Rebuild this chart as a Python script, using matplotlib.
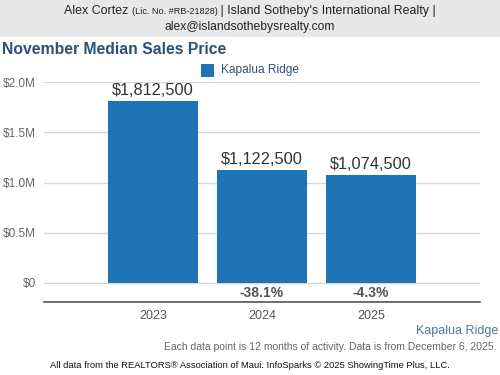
import matplotlib
matplotlib.use("Agg")
import matplotlib.pyplot as plt
from matplotlib.patches import Rectangle

years = ["2023", "2024", "2025"]
values = [1812500, 1122500, 1074500]
value_labels = ["$1,812,500", "$1,122,500", "$1,074,500"]
pct_labels = ["", "-38.1%", "-4.3%"]
yticks = [0, 500000, 1000000, 1500000, 2000000]
ytick_labels = ["$0", "$0.5M", "$1.0M", "$1.5M", "$2.0M"]

plt.rcParams['font.family'] = ['Liberation Sans', 'DejaVu Sans']

W, H = 500, 375
fig = plt.figure(figsize=(5, 3.75), dpi=100)

def fx(px): return px / W
def fy(py): return 1 - py / H

# header band
fig.patches.append(Rectangle((0, fy(37)), 1, 37 / H, transform=fig.transFigure,
                             facecolor="#e8e8e8", edgecolor="none", zorder=0))
fig.canvas.draw()
r = fig.canvas.get_renderer()
parts = [("Alex Cortez ", 8.9), ("(Lic. No. #RB-21828)", 6.6),
         (" | Island Sotheby's International Realty |", 8.9)]
objs = []
for s, fs in parts:
    objs.append(fig.text(0, fy(11), s, ha="left", va="center", fontsize=fs, color="#222"))
widths = [o.get_window_extent(r).width for o in objs]
x0 = (W - sum(widths)) / 2
for o, w in zip(objs, widths):
    o.set_x(x0 / W)
    x0 += w
fig.text(0.5, fy(27), "alex@islandsothebysrealty.com", ha="center", va="center",
         fontsize=8.7, color="#222")

fig.text(fx(2), fy(50), "November Median Sales Price", ha="left", va="center",
         fontsize=11.3, fontweight="bold", color="#2e5077")

ax = fig.add_axes([fx(44), fy(302), fx(480) - fx(44), (302 - 82) / H])
x = list(range(len(years)))
ax.bar(x, values, width=0.82, color="#1f73b7", zorder=3, label="Kapalua Ridge")
ax.set_xlim(-1, 3)
ymin = -2000000 * (302 - 283) / (283 - 82)
ax.set_ylim(ymin, 2000000)
ax.set_yticks(yticks)
ax.set_yticklabels(ytick_labels)
ax.set_xticks(x)
ax.set_xticklabels(years)
ax.tick_params(axis="y", length=0, labelsize=8.5, labelcolor="#666", pad=6)
ax.tick_params(axis="x", length=0, labelsize=9, labelcolor="#555", pad=6)
for yv in yticks:
    ax.axhline(yv, color="#d8d8d8", lw=1, zorder=1)
for s in ["top", "right", "left"]:
    ax.spines[s].set_visible(False)
ax.spines["bottom"].set_color("#555")
ax.spines["bottom"].set_linewidth(1.2)
ax.set_facecolor("none")
for xi, v, lab, pct in zip(x, values, value_labels, pct_labels):
    ax.text(xi, v + 30000, lab, ha="center", va="bottom", fontsize=11.8, color="#333")
    if pct:
        ax.text(xi, ymin / 2 - 5000, pct, ha="center", va="center", fontsize=10,
                fontweight="bold", color="#555")

# legend
fig.patches.append(Rectangle((fx(201), fy(77)), 13 / W, 13 / H, transform=fig.transFigure,
                             facecolor="#1f73b7", edgecolor="none"))
fig.text(fx(221), fy(70), "Kapalua Ridge", ha="left", va="center", fontsize=8.6, color="#2e5077")

fig.text(fx(498), fy(331), "Kapalua Ridge", ha="right", va="center", fontsize=9, color="#4a76a8")
fig.text(fx(496), fy(347), "Each data point is 12 months of activity. Data is from December 6, 2025.",
         ha="right", va="center", fontsize=7.5, color="#666")
fig.text(fx(50), fy(366), "All data from the REALTORS\u00ae Association of Maui. InfoSparks \u00a9 2025 ShowingTime Plus, LLC.",
         ha="left", va="center", fontsize=6.75, color="#111")

fig.savefig("out.png", dpi=100)
